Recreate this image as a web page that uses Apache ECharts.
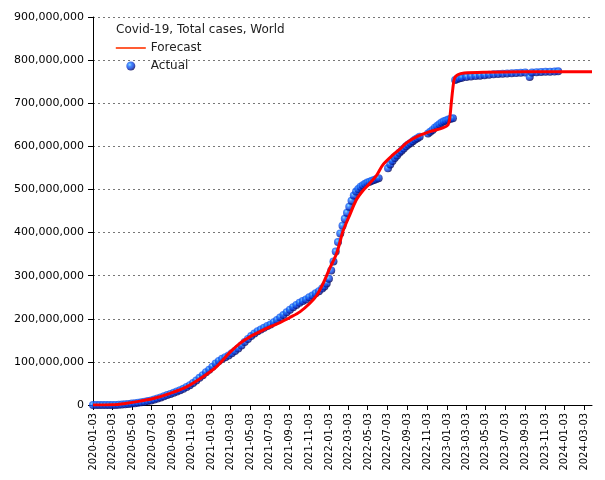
<!DOCTYPE html>
<html><head><meta charset="utf-8">
<script src="https://cdn.jsdelivr.net/npm/echarts@6/dist/echarts.min.js"></script>
<style>html,body{margin:0;padding:0;background:#fff}#c{width:605px;height:480px}</style>
</head><body><div id="c"></div>
<script>
// Axis range (daily categories)
const startDate = '2020-01-03';
const endDate = '2024-03-28';
const yMin = 0, yMax = 900000000, yStep = 100000000;

// Actual (millions of cases)
const actualDates = ['2020-01-03','2020-01-13','2020-01-23','2020-02-02','2020-02-12','2020-02-22','2020-03-03','2020-03-13','2020-03-23','2020-04-02','2020-04-12','2020-04-22','2020-05-02','2020-05-12','2020-05-22','2020-06-01','2020-06-11','2020-06-21','2020-07-01','2020-07-11','2020-07-21','2020-07-31','2020-08-10','2020-08-20','2020-08-30','2020-09-09','2020-09-19','2020-09-29','2020-10-09','2020-10-19','2020-10-29','2020-11-08','2020-11-18','2020-11-28','2020-12-08','2020-12-18','2020-12-28','2021-01-07','2021-01-17','2021-01-27','2021-02-06','2021-02-16','2021-02-26','2021-03-08','2021-03-18','2021-03-28','2021-04-07','2021-04-17','2021-04-27','2021-05-07','2021-05-17','2021-05-27','2021-06-06','2021-06-16','2021-06-26','2021-07-06','2021-07-16','2021-07-26','2021-08-05','2021-08-15','2021-08-25','2021-09-04','2021-09-14','2021-09-24','2021-10-04','2021-10-14','2021-10-24','2021-11-03','2021-11-13','2021-11-23','2021-12-03','2021-12-13','2021-12-20','2021-12-27','2022-01-03','2022-01-10','2022-01-17','2022-01-24','2022-01-31','2022-02-07','2022-02-14','2022-02-21','2022-02-28','2022-03-07','2022-03-14','2022-03-21','2022-03-28','2022-04-04','2022-04-11','2022-04-18','2022-04-25','2022-05-02','2022-05-09','2022-05-16','2022-05-23','2022-05-30','2022-06-06','2022-07-05','2022-07-12','2022-07-19','2022-07-26','2022-08-02','2022-08-09','2022-08-16','2022-08-23','2022-08-30','2022-09-06','2022-09-13','2022-09-20','2022-09-27','2022-10-04','2022-10-11','2022-11-06','2022-11-13','2022-11-20','2022-11-27','2022-12-04','2022-12-11','2022-12-18','2022-12-25','2023-01-01','2023-01-08','2023-01-15','2023-01-22','2023-01-29','2023-02-05','2023-02-12','2023-02-19','2023-03-05','2023-03-19','2023-04-02','2023-04-16','2023-04-30','2023-05-14','2023-05-28','2023-06-11','2023-06-25','2023-07-09','2023-07-23','2023-08-06','2023-08-20','2023-09-03','2023-09-17','2023-09-24','2023-10-08','2023-10-22','2023-11-05','2023-11-19','2023-12-03','2023-12-14'];
const actualValues = [0,0,0.01,0.02,0.05,0.08,0.09,0.15,0.4,1.0,1.8,2.6,3.4,4.2,5.2,6.3,7.5,9.0,10.7,12.7,15.0,17.6,20.2,23.0,25.8,28.4,31.2,34.2,37.5,41.5,46,51,57,63,69,76,82,89,96,102,107,111,115,120,125,131,138,146,153,160,166,171,175,179,183,187,192,197,203,209,215,221,227,232,237,241,245,250,254,259,264,270,275,282,293,312,333,356,378,398,416,432,446,460,474,486,495,501,506,510,513,516,518,520,522,524,526,549,558,566,573,579,585,590,595,600,604,608,612,616,619,622,630,634,638,643,647,651,655,658,660,662,664,665,754,756,758,759,761,762,763,764,765,766,767,768,768.5,769,769.5,770,770.5,771,761,771,772,772.5,773,773,773.5,774];

// Forecast (millions of cases)
const forecastDates = ['2020-01-03','2020-03-03','2020-04-16','2020-05-28','2020-07-08','2020-08-29','2020-10-19','2020-12-10','2021-01-20','2021-03-02','2021-04-02','2021-05-03','2021-06-03','2021-07-04','2021-08-04','2021-09-04','2021-10-05','2021-11-05','2021-11-26','2021-12-16','2022-01-06','2022-01-27','2022-02-16','2022-03-08','2022-03-29','2022-04-18','2022-05-09','2022-05-30','2022-06-19','2022-07-20','2022-08-10','2022-08-31','2022-10-01','2022-11-11','2022-12-22','2023-01-07','2023-01-12','2023-01-17','2023-01-22','2023-01-27','2023-02-06','2023-02-26','2023-05-01','2023-09-01','2024-03-28'];
const forecastValues = [0,0.5,4,9,15,27,42,66,89,122,143,158,170,181,191,203,216,236,254,282,318,352,404,440,476,497,514,532,557,580,593,608,622,634,643,650,664,700,735,758,766,770,772,773,773];

const titleText = 'Covid-19, Total cases, World';
const seriesNames = ['Forecast', 'Actual'];

// build daily categories
const categories = [];
for (let d = new Date(startDate + 'T00:00:00Z'); d <= new Date(endDate + 'T00:00:00Z'); d.setUTCDate(d.getUTCDate() + 1)) {
  categories.push(d.toISOString().slice(0, 10));
}
const isTick = (i, v) => v.slice(8) === '03' && (parseInt(v.slice(5, 7), 10) % 2 === 1);
const M = 1000000;
const actualData = actualDates.map((d, i) => [d, actualValues[i] * M]);
const forecastData = forecastDates.map((d, i) => [d, forecastValues[i] * M]);

const font = "'DejaVu Sans', sans-serif";
const sphere = {
  type: 'radial', x: 0.38, y: 0.35, r: 0.68,
  colorStops: [
    { offset: 0, color: '#70d8ff' },
    { offset: 0.3, color: '#1a70ff' },
    { offset: 0.65, color: '#0a3ad8' },
    { offset: 1, color: '#000050' }
  ]
};
const chart = echarts.init(document.getElementById('c'));
chart.setOption({
  animation: false,
  backgroundColor: '#fff',
  title: {
    text: titleText, left: 116, top: 24, padding: 0,
    textStyle: { fontFamily: font, fontSize: 12, fontWeight: 'normal', color: '#222' }
  },
  legend: {
    orient: 'vertical', left: 115, top: 42, padding: 0, itemGap: 6,
    itemWidth: 30, itemHeight: 9,
    textStyle: { fontFamily: font, fontSize: 12, color: '#222' },
    data: [
      { name: seriesNames[0], lineStyle: { color: '#ff3300', width: 1.6, opacity: 1 }, itemStyle: { color: 'rgba(0,0,0,0)', borderWidth: 0 } },
      { name: seriesNames[1], icon: 'circle' }
    ]
  },
  grid: { left: 93, right: 13, top: 17, bottom: 75, containLabel: false },
  xAxis: {
    type: 'category', data: categories, boundaryGap: false,
    axisLine: { lineStyle: { color: '#000', width: 1 } },
    axisTick: { interval: isTick, length: 5, lineStyle: { color: '#000' } },
    axisLabel: {
      interval: isTick, rotate: 90, margin: 8, color: '#000',
      fontFamily: "'DejaVu Sans Condensed', 'Liberation Sans', sans-serif", fontSize: 11
    },
    splitLine: { show: false }
  },
  yAxis: {
    type: 'value', min: yMin, max: yMax, interval: yStep,
    axisLine: { show: true, lineStyle: { color: '#000', width: 1 } },
    axisTick: { show: true, length: 5, lineStyle: { color: '#000' } },
    axisLabel: {
      margin: 9, color: '#000', fontFamily: font, fontSize: 11,
      formatter: v => v.toLocaleString('en-US')
    },
    splitLine: { show: true, lineStyle: { color: '#777', type: [2, 3], width: 1 } }
  },
  series: [
    {
      name: seriesNames[1], type: 'scatter', data: actualData, symbolSize: 8, z: 2,
      itemStyle: { color: sphere }
    },
    {
      name: seriesNames[0], type: 'line', data: forecastData, showSymbol: false, symbol: 'none', z: 3,
      smooth: 0.3,
      lineStyle: { color: '#ff0000', width: 3 }, itemStyle: { color: '#ff0000' }
    }
  ]
});
</script>
</body></html>
